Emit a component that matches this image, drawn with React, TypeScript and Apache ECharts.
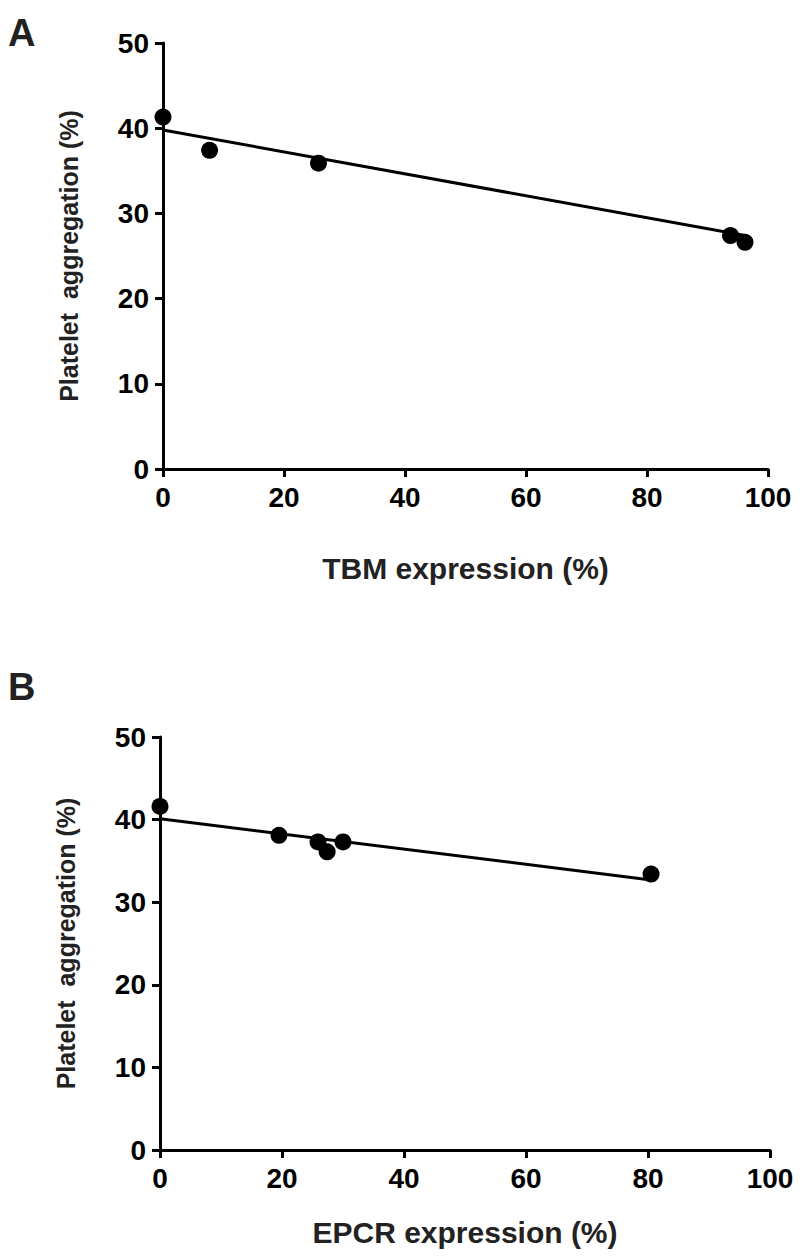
import React, { useEffect, useRef } from "react";
import * as echarts from "echarts";

const tbmX = [0, 7.7, 25.7, 93.8, 96.2];
const tbmY = [41.3, 37.4, 35.9, 27.4, 26.6];
const tbmFitX = [0, 96.2];
const tbmFitY = [39.8, 27.4];

const epcrX = [0, 19.5, 25.9, 27.4, 30, 80.5];
const epcrY = [41.6, 38.1, 37.3, 36.1, 37.3, 33.4];
const epcrFitX = [0, 80.5];
const epcrFitY = [40.1, 32.7];

const xTitles = ["TBM expression (%)", "EPCR expression (%)"];
const yTitle = "Platelet  aggregation (%)";
const panelLabels = ["A", "B"];

const FONT = "'Liberation Sans', Arial, sans-serif";

const pairs = (xs: number[], ys: number[]) => xs.map((x, i) => [x, ys[i]]);

export default function App() {
  const ref = useRef<HTMLDivElement>(null);
  useEffect(() => {
    if (!ref.current) return;
    const chart = echarts.init(ref.current, null, { renderer: "svg" });
    const axisCommon = {
      axisLine: { lineStyle: { color: "#000", width: 3 } },
      axisTick: { inside: false, length: 8, lineStyle: { color: "#000", width: 3 } },
      splitLine: { show: false },
      axisLabel: { color: "#000", fontFamily: FONT, fontWeight: "bold", fontSize: 28 },
    };
    const xGaps = [84, 67];
    const xAxis = [0, 1].map((i) => ({
      ...axisCommon,
      type: "value",
      gridIndex: i,
      min: 0,
      max: 100,
      interval: 20,
      axisLabel: { ...axisCommon.axisLabel, margin: 14 },
      name: xTitles[i],
      nameLocation: "middle",
      nameGap: xGaps[i],
      nameTextStyle: { color: "#222", fontFamily: FONT, fontWeight: "bold", fontSize: 30 },
    }));
    const yAxis = [0, 1].map((i) => ({
      ...axisCommon,
      type: "value",
      gridIndex: i,
      min: 0,
      max: 50,
      interval: 10,
      axisLabel: { ...axisCommon.axisLabel, margin: 14 },
      name: yTitle,
      nameLocation: "middle",
      nameGap: 82,
      nameTextStyle: { color: "#222", fontFamily: FONT, fontWeight: "bold", fontSize: 25 },
    }));
    const scatter = (i: number, xs: number[], ys: number[]) => ({
      type: "scatter",
      xAxisIndex: i,
      yAxisIndex: i,
      data: pairs(xs, ys),
      symbol: "circle",
      symbolSize: 17,
      itemStyle: { color: "#000", opacity: 1 },
      clip: false,
      z: 5,
    });
    const fit = (i: number, xs: number[], ys: number[]) => ({
      type: "line",
      xAxisIndex: i,
      yAxisIndex: i,
      data: pairs(xs, ys),
      showSymbol: false,
      lineStyle: { color: "#000", width: 3 },
      z: 4,
    });
    chart.setOption({
      animation: false,
      backgroundColor: "#fff",
      grid: [
        { left: 163, top: 43, width: 605, height: 426 },
        { left: 160, top: 737, width: 610, height: 413 },
      ],
      xAxis,
      yAxis,
      series: [
        fit(0, tbmFitX, tbmFitY),
        scatter(0, tbmX, tbmY),
        fit(1, epcrFitX, epcrFitY),
        scatter(1, epcrX, epcrY),
      ],
      graphic: [
        { type: "text", left: 8, top: 14, style: { text: panelLabels[0], fontFamily: FONT, fontWeight: "bold", fontSize: 38, fill: "#222" } },
        { type: "text", left: 8, top: 668, style: { text: panelLabels[1], fontFamily: FONT, fontWeight: "bold", fontSize: 38, fill: "#222" } },
      ],
    });
    return () => chart.dispose();
  }, []);
  return (
    <div
      ref={ref}
      style={{ position: "absolute", left: 0, top: 0, width: 803, height: 1257 }}
    />
  );
}
